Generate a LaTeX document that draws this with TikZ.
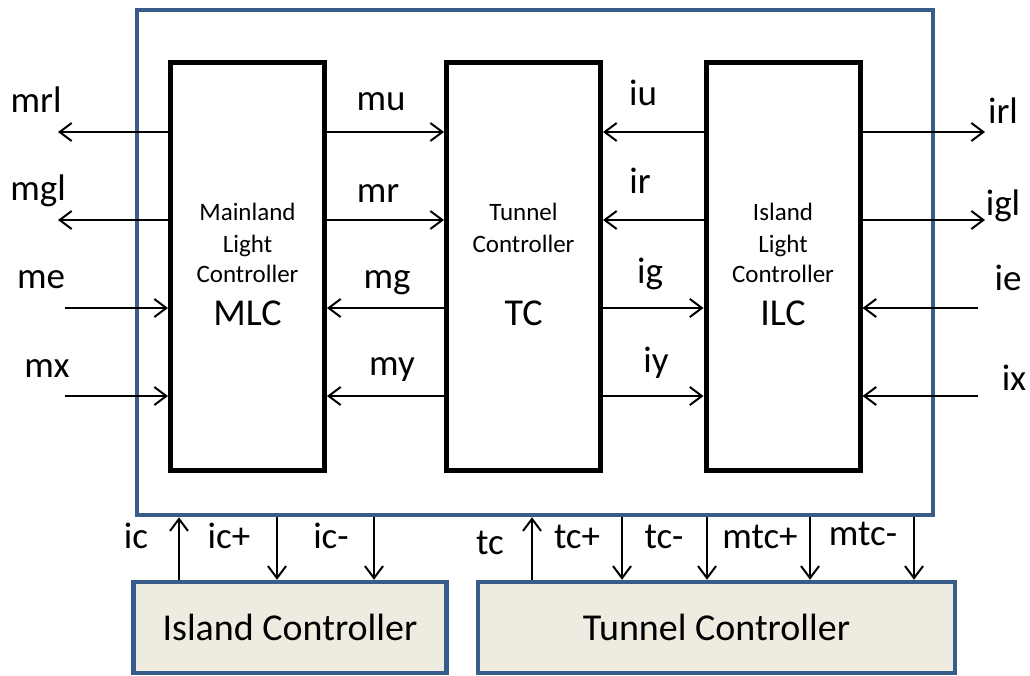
\documentclass[tikz,border=0pt]{standalone}
\usepackage{fontspec}
\setmainfont{Carlito}
\usetikzlibrary{arrows.meta}
\definecolor{boxblue}{RGB}{56,93,138}
\definecolor{boxfill}{RGB}{238,236,225}
\tikzset{
  ctrl/.style={draw, line width=5pt, minimum width=154pt, minimum height=408pt, inner sep=0pt},
  sig/.style={line width=2pt, -{Straight Barb[length=12pt,width=18pt]}},
  lbl/.style={font=\fontsize{37}{40}\selectfont, anchor=base, inner sep=0pt},
  ttl/.style={font=\fontsize{25}{30}\selectfont, anchor=base, inner sep=0pt},
  abbr/.style={font=\fontsize{38}{40}\selectfont, anchor=base, inner sep=0pt},
  ext/.style={draw=boxblue, fill=boxfill, line width=4.5pt, minimum height=91pt, inner sep=0pt, font=\fontsize{38}{40}\selectfont},
}
\begin{document}
\begin{tikzpicture}[x=1pt,y=-1pt]
    \useasboundingbox (0,0) rectangle (1030,675);

    % system frame
    \node[draw=boxblue, line width=4.5pt, minimum width=796pt, minimum height=505pt] (sys) at (535,262.5) {};

    % controllers
    \node[ctrl] (mlc) at (247.5,266) {};
    \node[ctrl] (tc) at (523.5,266) {};
    \node[ctrl] (ilc) at (783,266) {};

    \node[ttl] (mlc1) at (247.5,220) {Mainland};
    \node[ttl] (mlc2) at (247.5,252) {Light};
    \node[ttl] (mlc3) at (247.5,282) {Controller};
    \node[abbr] (mlc4) at (247.5,325) {MLC};
    \node[ttl] (tc1) at (523.5,220) {Tunnel};
    \node[ttl] (tc2) at (523.5,252) {Controller};
    \node[abbr] (tc3) at (523.5,325) {TC};
    \node[ttl] (ilc1) at (783,220) {Island};
    \node[ttl] (ilc2) at (783,252) {Light};
    \node[ttl] (ilc3) at (783,282) {Controller};
    \node[abbr] (ilc4) at (783,325) {ILC};

    % external controllers
    \node[ext, minimum width=313pt] (isl) at (290,627.5) {Island Controller};
    \node[ext, minimum width=477pt] (tun) at (716.5,627.5) {Tunnel Controller};

    % signal rows and free ends
    \coordinate (r1) at (0,132);
    \coordinate (r2) at (0,220);
    \coordinate (r3) at (0,308);
    \coordinate (r4) at (0,396);
    \coordinate (lout) at (58,0);
    \coordinate (lin) at (65,0);
    \coordinate (rout) at (985,0);
    \coordinate (rin) at (978,0);

    % left side
    \draw[sig] (mlc.west |- r1) -- (lout |- r1);
    \draw[sig] (mlc.west |- r2) -- (lout |- r2);
    \draw[sig] (lin |- r3) -- (mlc.west |- r3);
    \draw[sig] (lin |- r4) -- (mlc.west |- r4);
    \node[lbl] (lmrl) at (36,112) {mrl};
    \node[lbl] (lmgl) at (38,200) {mgl};
    \node[lbl] (lme) at (41,288) {me};
    \node[lbl] (lmx) at (47,377) {mx};

    % MLC <-> TC
    \draw[sig] (mlc.east |- r1) -- (tc.west |- r1);
    \draw[sig] (mlc.east |- r2) -- (tc.west |- r2);
    \draw[sig] (tc.west |- r3) -- (mlc.east |- r3);
    \draw[sig] (tc.west |- r4) -- (mlc.east |- r4);
    \node[lbl] (lmu) at (381,110) {mu};
    \node[lbl] (lmr) at (378,202) {mr};
    \node[lbl] (lmg) at (387,288) {mg};
    \node[lbl] (lmy) at (392,375) {my};

    % ILC <-> TC
    \draw[sig] (ilc.west |- r1) -- (tc.east |- r1);
    \draw[sig] (ilc.west |- r2) -- (tc.east |- r2);
    \draw[sig] (tc.east |- r3) -- (ilc.west |- r3);
    \draw[sig] (tc.east |- r4) -- (ilc.west |- r4);
    \node[lbl] (liu) at (643,105) {iu};
    \node[lbl] (lir) at (640,193) {ir};
    \node[lbl] (lig) at (650,283) {ig};
    \node[lbl] (liy) at (656,372) {iy};

    % right side
    \draw[sig] (ilc.east |- r1) -- (rout |- r1);
    \draw[sig] (ilc.east |- r2) -- (rout |- r2);
    \draw[sig] (rin |- r3) -- (ilc.east |- r3);
    \draw[sig] (rin |- r4) -- (ilc.east |- r4);
    \node[lbl] (lirl) at (1003,123) {irl};
    \node[lbl] (ligl) at (1003,215) {igl};
    \node[lbl] (lie) at (1008,290) {ie};
    \node[lbl] (lix) at (1014,390) {ix};

    % bottom signals
    \coordinate (xic) at (179,0);
    \coordinate (xtc) at (532,0);
    \draw[sig] (isl.north -| xic) -- (sys.south -| xic);
    \draw[sig] (tun.north -| xtc) -- (sys.south -| xtc);
    \foreach \x in {277,374} {
        \coordinate (xd) at (\x,0);
        \draw[sig] (sys.south -| xd) -- (isl.north -| xd);
    }
    \foreach \x in {622,707,810,914} {
        \coordinate (xd) at (\x,0);
        \draw[sig] (sys.south -| xd) -- (tun.north -| xd);
    }
    \node[lbl] (lic) at (136,548) {ic};
    \node[lbl] (licp) at (229,548) {ic+};
    \node[lbl] (licm) at (331,548) {ic-};
    \node[lbl] (ltc) at (490,554) {tc};
    \node[lbl] (ltcp) at (577,548) {tc+};
    \node[lbl] (ltcm) at (664,548) {tc-};
    \node[lbl] (lmtcp) at (760,548) {mtc+};
    \node[lbl] (lmtcm) at (863,545) {mtc-};
\end{tikzpicture}
\end{document}
